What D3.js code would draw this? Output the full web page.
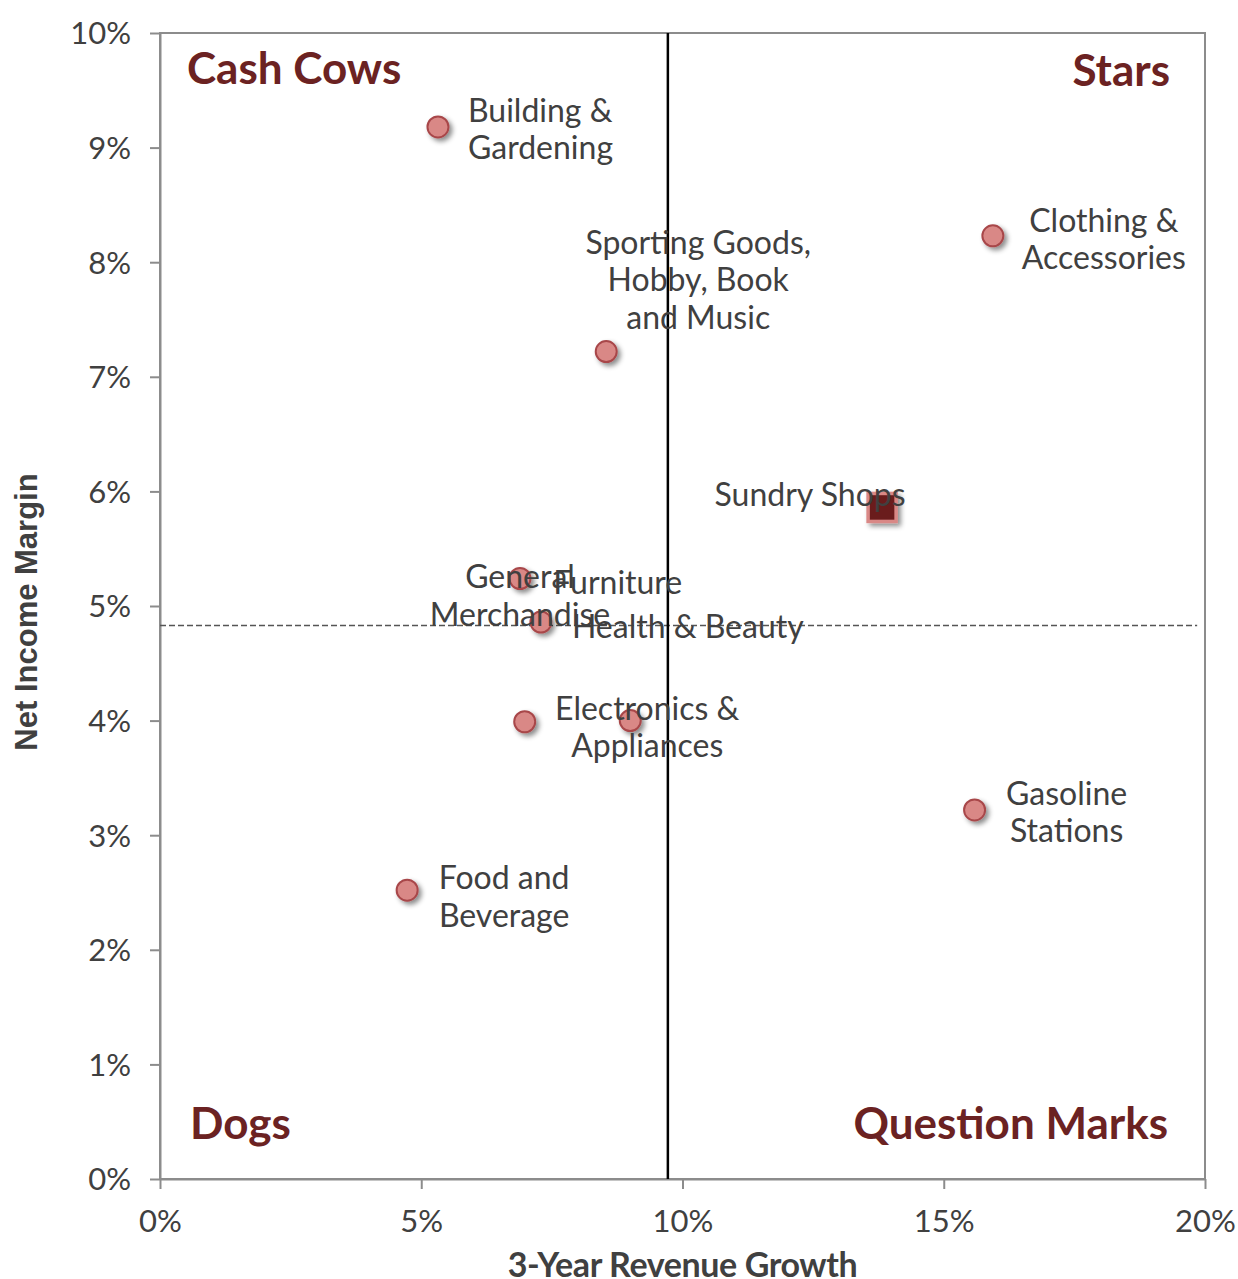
<!DOCTYPE html>
<html>
<head>
<meta charset="utf-8">
<script src="https://cdn.jsdelivr.net/npm/d3@7"></script>
<style>
  body { margin: 0; background: #fff; }
  text { font-family: Lato, sans-serif; }
</style>
</head>
<body>
<div id="chart"></div>
<script>
// data (percent)
const names = ["Building & Gardening", "Clothing & Accessories", "Sporting Goods, Hobby, Book and Music",
               "Sundry Shops", "General Merchandise", "Furniture", "Health & Beauty",
               "Electronics & Appliances", "Gasoline Stations", "Food and Beverage"];
const growth = [5.32, 15.94, 8.54, 13.82, 6.89, 6.98, 7.29, 9.0, 15.59, 4.73];
const margin = [9.18, 8.23, 7.22, 5.86, 5.24, 3.99, 4.86, 4.0, 3.22, 2.52];
const labelLines = [["Building &", "Gardening"], ["Clothing &", "Accessories"],
                    ["Sporting Goods,", "Hobby, Book", "and Music"], ["Sundry Shops"],
                    ["General", "Merchandise"], ["Furniture"], ["Health & Beauty"],
                    ["Electronics &", "Appliances"], ["Gasoline", "Stations"], ["Food and", "Beverage"]];
const avgGrowth = 9.72;
const avgMargin = 4.83;
const xTicks = [0, 5, 10, 15, 20];
const yTicks = [0, 1, 2, 3, 4, 5, 6, 7, 8, 9, 10];
const quadrants = ["Cash Cows", "Stars", "Dogs", "Question Marks"];

// label placement: offset of first baseline from the point, in pixels
const labelPos = [
  {dx: 30, dy: -5, anchor: "start"},
  {dx: 111, dy: -4, anchor: "middle"},
  {dx: 92, dy: -98, anchor: "middle"},
  {dx: -72, dy: -1, anchor: "middle"},
  {dx: 0, dy: 10, anchor: "middle"},
  {dx: 93, dy: -128, anchor: "middle"},
  {dx: 31, dy: 16, anchor: "start"},
  {dx: 17, dy: -1, anchor: "middle"},
  {dx: 92, dy: -5, anchor: "middle"},
  {dx: 97, dy: -1, anchor: "middle"}
];

const width = 1238, height = 1279;
const pLeft = 160, pRight = 1205, pTop = 33, pBottom = 1179;
const dark = "#6b2222";
const grey = "#404040";

const svg = d3.select("#chart").append("svg")
  .attr("width", width).attr("height", height);

const defs = svg.append("defs");
const f = defs.append("filter").attr("id", "shadow")
  .attr("x", "-50%").attr("y", "-50%").attr("width", "200%").attr("height", "200%");
f.append("feDropShadow").attr("dx", 3).attr("dy", 3).attr("stdDeviation", 2.5)
  .attr("flood-color", "#000").attr("flood-opacity", 0.45);

const x = d3.scaleLinear().domain([0, 20]).range([pLeft, pRight]);
const y = d3.scaleLinear().domain([0, 10]).range([pBottom, pTop]);

// plot frame
svg.append("rect").attr("x", pLeft).attr("y", pTop)
  .attr("width", pRight - pLeft).attr("height", pBottom - pTop)
  .attr("fill", "none").attr("stroke", "#8c8c8c").attr("stroke-width", 2);

const xAxis = svg.append("g").attr("transform", `translate(0,${pBottom})`)
  .call(d3.axisBottom(x).tickValues(xTicks).tickFormat(d => d + "%").tickSize(10).tickSizeOuter(0));
const yAxis = svg.append("g").attr("transform", `translate(${pLeft},0)`)
  .call(d3.axisLeft(y).tickValues(yTicks).tickFormat(d => d + "%").tickSize(10).tickSizeOuter(0));
[xAxis, yAxis].forEach(a => {
  a.select(".domain").attr("stroke", "#8c8c8c").attr("stroke-width", 2);
  a.selectAll(".tick line").attr("stroke", "#8c8c8c").attr("stroke-width", 2);
  a.selectAll(".tick text").attr("fill", grey).style("font-size", "31px").style("font-family", "Lato");
});
xAxis.selectAll(".tick text").attr("y", 53).attr("dy", 0);
yAxis.selectAll(".tick text").attr("x", -29).attr("dy", "0.35em");

// average lines
svg.append("line").attr("x1", pLeft).attr("x2", x(19.85))
  .attr("y1", y(avgMargin)).attr("y2", y(avgMargin))
  .attr("stroke", "#555").attr("stroke-width", 1.5).attr("stroke-dasharray", "6,3");
svg.append("line").attr("x1", x(avgGrowth)).attr("x2", x(avgGrowth))
  .attr("y1", pTop).attr("y2", pBottom)
  .attr("stroke", "#000").attr("stroke-width", 2.5);

// quadrant titles
const qPos = [
  {x: 187, y: 84, anchor: "start"}, {x: 1170, y: 86, anchor: "end"},
  {x: 190, y: 1139, anchor: "start"}, {x: 1168, y: 1139, anchor: "end"}
];
svg.selectAll(".quad").data(quadrants).join("text")
  .attr("class", "quad")
  .attr("x", (d, i) => qPos[i].x).attr("y", (d, i) => qPos[i].y)
  .attr("text-anchor", (d, i) => qPos[i].anchor)
  .attr("fill", dark).style("font-size", "44px").style("font-weight", "bold")
  .text(d => d);

// points
const pts = names.map((n, i) => ({name: n, gx: growth[i], my: margin[i], i}));
const circles = pts.filter(d => d.name !== "Sundry Shops");
svg.selectAll(".pt").data(circles).join("circle")
  .attr("class", "pt")
  .attr("cx", d => x(d.gx)).attr("cy", d => y(d.my)).attr("r", 10.5)
  .attr("fill", "#d98886").attr("stroke", "#a8474a").attr("stroke-width", 2)
  .attr("filter", "url(#shadow)");
const sq = pts.filter(d => d.name === "Sundry Shops");
svg.selectAll(".sq").data(sq).join("rect")
  .attr("class", "sq")
  .attr("x", d => x(d.gx) - 14).attr("y", d => y(d.my) - 14)
  .attr("width", 28).attr("height", 28)
  .attr("fill", "#6b1f1f").attr("stroke", "#d98886").attr("stroke-width", 3.5)
  .attr("filter", "url(#shadow)");

// data labels
const lh = 37.5;
pts.forEach(d => {
  const p = labelPos[d.i];
  const lines = labelLines[d.i];
  const t = svg.append("text")
    .attr("x", x(d.gx) + p.dx)
    .attr("y", y(d.my) + p.dy)
    .attr("text-anchor", p.anchor)
    .attr("fill", grey).style("font-size", "32px");
  lines.forEach((l, k) => {
    t.append("tspan").attr("x", x(d.gx) + p.dx)
      .attr("dy", k === 0 ? 0 : lh)
      .text(l);
  });
});

// axis titles
svg.append("text").attr("x", (pLeft + pRight) / 2).attr("y", 1277)
  .attr("text-anchor", "middle").attr("fill", grey)
  .style("font-size", "34px").style("font-weight", "bold").style("letter-spacing", "-0.4px")
  .text("3-Year Revenue Growth");
svg.append("text").attr("transform", "translate(37,612) rotate(-90)")
  .attr("text-anchor", "middle").attr("fill", grey)
  .style("font-family", "'Liberation Sans', Arial, sans-serif")
  .style("font-size", "31px").style("font-weight", "bold")
  .text("Net Income Margin");
</script>
</body>
</html>
